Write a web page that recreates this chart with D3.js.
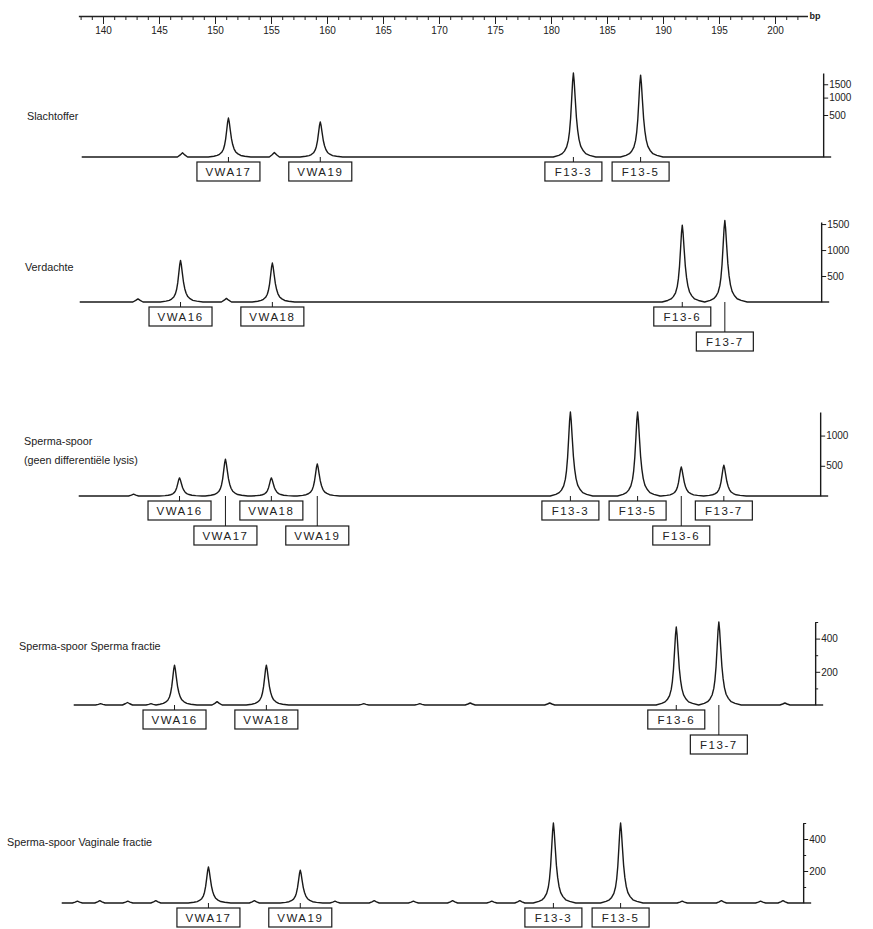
<!DOCTYPE html>
<html>
<head>
<meta charset="utf-8">
<title>DNA-profielen</title>
<script src="https://cdnjs.cloudflare.com/ajax/libs/d3/7.8.5/d3.min.js"></script>
<style>
    body { margin: 0; background: #fff; }
    text { font-family: "Liberation Sans", Arial, sans-serif; fill: #222; }
</style>
</head>
<body>
<div id="chart"></div>
<script>
// allele sizes (bp)
const alleleNames = ["VWA16", "VWA17", "VWA18", "VWA19", "F13-3", "F13-5", "F13-6", "F13-7"];
const alleleSizes = [147.1, 151.2, 155.3, 159.4, 182.0, 188.0, 191.9, 195.7];

// top axis
const bpTicks = d3.range(140, 201, 5);
const bpMinorTicks = d3.range(138, 203, 1);

// panels
const panelTitles = [
    ["Slachtoffer"],
    ["Verdachte"],
    ["Sperma-spoor", "(geen differentiële lysis)"],
    ["Sperma-spoor Sperma fractie"],
    ["Sperma-spoor Vaginale fractie"]
];

// called peaks: [allele, height]
const peaksSlachtoffer = [["VWA17", 430], ["VWA19", 350], ["F13-3", 2000], ["F13-5", 1900]];
const peaksVerdachte = [["VWA16", 800], ["VWA18", 750], ["F13-6", 1480], ["F13-7", 1570]];
const peaksSpoor = [["VWA16", 300], ["VWA17", 610], ["VWA18", 300], ["VWA19", 530],
                    ["F13-3", 1390], ["F13-5", 1390], ["F13-6", 480], ["F13-7", 510]];
const peaksSperma = [["VWA16", 240], ["VWA18", 240], ["F13-6", 470], ["F13-7", 500]];
const peaksVaginaal = [["VWA17", 225], ["VWA19", 205], ["F13-3", 500], ["F13-5", 500]];
const panelPeaks = [peaksSlachtoffer, peaksVerdachte, peaksSpoor, peaksSperma, peaksVaginaal];

// small background bumps: [bp, height]
const bumpsSlachtoffer = [[147.1, 5], [155.3, 6]];
const bumpsVerdachte = [[143.3, 60], [151.2, 70]];
const bumpsSpoor = [[143.0, 30]];
const bumpsSperma = [[140.5, 8], [142.9, 15], [145.0, 8], [150.9, 20], [164.0, 8], [169.0, 8],
                     [173.5, 12], [180.6, 12], [197.5, 8], [201.6, 12]];
const bumpsVaginaal = [[139.5, 12], [141.5, 15], [144.0, 12], [146.5, 15], [155.3, 15], [162.5, 12],
                       [166.0, 15], [169.5, 12], [173.0, 15], [176.5, 12], [179.0, 15], [193.5, 12],
                       [197.0, 15], [200.5, 12], [202.5, 15]];
const panelBumps = [bumpsSlachtoffer, bumpsVerdachte, bumpsSpoor, bumpsSperma, bumpsVaginaal];

// right-hand intensity axes
const yMax = [2000, 1540, 1390, 500, 500];
const yTicks = [[500, 1000, 1500], [500, 1000, 1500], [500, 1000], [200, 400], [200, 400]];
const yMinorTicks = [[], [], [], [100, 300, 500], [100, 300, 500]];

// layout
const width = 873, height = 929;
const baselines = [157, 302, 496, 705, 903];
const shifts = [0, -2, -3, -8, -20];
const plotHeights = [84, 80, 84, 83, 80];
const titleY = [[116], [267], [441, 460], [646], [842]];
const traceStart = 138.1, traceEnd = 204.3;

const x = d3.scaleLinear().domain([140, 200]).range([103, 775]);

const svg = d3.select("#chart").append("svg")
    .attr("width", width)
    .attr("height", height);

// top bp axis
const axisScale = x.copy().domain([137.8, 202.9]).range([x(137.8), x(202.9)]);
const topAxis = svg.append("g").attr("transform", "translate(0,16)");
topAxis.append("g")
    .call(d3.axisBottom(axisScale).tickValues(bpMinorTicks).tickSize(4).tickSizeOuter(0).tickFormat(""))
    .call(g => g.select(".domain").attr("stroke-width", 1.6));
topAxis.append("g")
    .call(d3.axisBottom(axisScale).tickValues(bpTicks).tickSize(8).tickSizeOuter(0).tickPadding(3))
    .call(g => g.select(".domain").remove())
    .call(g => g.selectAll("text").style("font-size", "10px").attr("fill", "#222"));
topAxis.selectAll("line").attr("stroke", "#222");
topAxis.selectAll(".domain").attr("stroke", "#222");
topAxis.append("text")
    .attr("x", axisScale.range()[1] + 2)
    .attr("y", 3)
    .style("font-size", "9px")
    .style("font-weight", "bold")
    .text("bp");

// peak profile: bp offset, fraction of drawn peak height
const peakShape = [[-1.8, 0], [-1.3, 0.02], [-1.0, 0.04], [-0.8, 0.07], [-0.6, 0.12], [-0.45, 0.2],
                   [-0.35, 0.3], [-0.25, 0.46], [-0.15, 0.7], [-0.07, 0.9], [0, 1], [0.07, 0.9],
                   [0.16, 0.7], [0.27, 0.47], [0.38, 0.32], [0.5, 0.21], [0.65, 0.13], [0.85, 0.08],
                   [1.1, 0.04], [1.45, 0.02], [2.0, 0]];
const bumpShape = [[-0.45, 0], [-0.2, 0.5], [0, 1], [0.2, 0.5], [0.45, 0]];

const sizeOf = name => alleleSizes[alleleNames.indexOf(name)];

panelTitles.forEach((titles, i) => {
    const g = svg.append("g").attr("transform", `translate(${shifts[i]},${baselines[i]})`);
    const y = (i === 0 ? d3.scaleSqrt() : d3.scaleLinear())
        .domain([0, yMax[i]]).range([0, -plotHeights[i]]);

    // titles
    titles.forEach((t, k) => {
        g.append("text")
            .attr("x", 27)
            .attr("y", titleY[i][k] - baselines[i])
            .attr("dy", "0.35em")
            .style("font-size", "10.8px")
            .text(t);
    });

    // trace points (px offsets from baseline)
    const features = panelPeaks[i].map(p => ({ bp: sizeOf(p[0]), top: y(p[1]), shape: peakShape }))
        .concat(panelBumps[i].map(b => ({ bp: b[0], top: y(b[1]), shape: bumpShape })))
        .sort((a, b) => a.bp - b.bp);
    const pts = [[traceStart, 0]];
    features.forEach(f => {
        f.shape.forEach(s => {
            const bx = f.bp + s[0];
            if (bx > pts[pts.length - 1][0]) pts.push([bx, f.top * s[1]]);
        });
    });
    pts.push([traceEnd, 0]);

    g.append("path")
        .datum(pts)
        .attr("fill", "none")
        .attr("stroke", "#1a1a1a")
        .attr("stroke-width", 1.4)
        .attr("stroke-linejoin", "round")
        .attr("d", d3.line().x(d => x(d[0])).y(d => d[1]));

    // right axis
    const ax = x(traceEnd);
    g.append("line")
        .attr("x1", ax).attr("x2", ax + 8)
        .attr("y1", 0).attr("y2", 0)
        .attr("stroke", "#1a1a1a").attr("stroke-width", 1.4);
    const yAxis = g.append("g").attr("transform", `translate(${ax},0)`);
    yAxis.call(d3.axisRight(y).tickValues(yMinorTicks[i]).tickSize(3).tickSizeOuter(0).tickFormat(""));
    yAxis.append("g")
        .call(d3.axisRight(y).tickValues(yTicks[i]).tickSize(5).tickSizeOuter(0).tickPadding(1)
            .tickFormat(d3.format("d")))
        .call(gg => gg.select(".domain").remove())
        .call(gg => gg.selectAll("text").style("font-size", "10px").attr("fill", "#222"));
    yAxis.selectAll("line").attr("stroke", "#1a1a1a");
    yAxis.selectAll(".domain").attr("stroke", "#1a1a1a").attr("stroke-width", 1.4);

    // allele label boxes, greedy rows
    let rowEnd = -Infinity;
    panelPeaks[i].forEach(p => {
        const px = x(sizeOf(p[0]));
        const bw = p[0].startsWith("VWA") ? 63 : 57;
        const row = (px - bw / 2 < rowEnd + 2) ? 1 : 0;
        if (row === 0) rowEnd = px + bw / 2;
        const top = row === 0 ? 5 : 30;
        g.append("line")
            .attr("x1", px).attr("x2", px)
            .attr("y1", 0).attr("y2", top)
            .attr("stroke", "#1a1a1a").attr("stroke-width", 1);
        g.append("rect")
            .attr("x", px - bw / 2).attr("y", top)
            .attr("width", bw).attr("height", 19)
            .attr("fill", "#fff")
            .attr("stroke", "#1a1a1a").attr("stroke-width", 1.2);
        g.append("text")
            .attr("x", px).attr("y", top + 10)
            .attr("dy", "0.35em")
            .attr("text-anchor", "middle")
            .style("font-size", "11.5px")
            .style("letter-spacing", "1.5px")
            .text(p[0]);
    });
});
</script>
</body>
</html>
